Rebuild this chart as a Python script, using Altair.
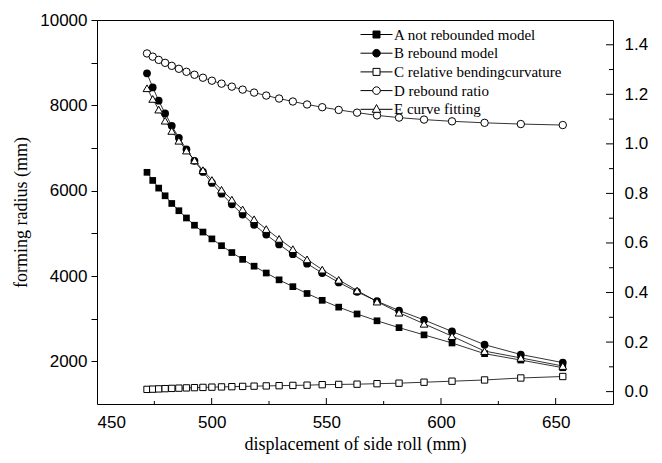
import altair as alt
import pandas as pd

# displacement of side roll (mm)
xs = [471.8, 474.3, 476.9, 479.7, 482.6, 485.7, 489.0, 492.5, 496.2, 500.1,
      504.3, 508.8, 513.5, 518.5, 523.8, 529.4, 535.4, 541.6, 548.2, 555.4,
      563.4, 572.1, 581.7, 592.6, 604.8, 619.0, 634.8, 653.1]
# forming radius (mm)
a_not_rebounded = [6430, 6240, 6060, 5880, 5700, 5530, 5360, 5190, 5030, 4870,
                   4710, 4550, 4390, 4230, 4070, 3910, 3750, 3590, 3430, 3270,
                   3110, 2950, 2790, 2620, 2430, 2180, 2030, 1850]
b_rebound = [8750, 8420, 8110, 7810, 7520, 7240, 6970, 6700, 6440, 6180,
             5930, 5680, 5440, 5200, 4970, 4740, 4510, 4290, 4070, 3850,
             3630, 3410, 3190, 2970, 2700, 2390, 2160, 1970]
e_fit = [8400, 8150, 7900, 7640, 7400, 7170, 6940, 6710, 6480, 6250,
         6020, 5790, 5560, 5330, 5100, 4870, 4630, 4390, 4150, 3910,
         3660, 3400, 3140, 2880, 2590, 2240, 2080, 1890]
# right axis
c_curvature = [0.009, 0.010, 0.011, 0.012, 0.013, 0.014, 0.015, 0.016, 0.017, 0.018,
               0.019, 0.020, 0.021, 0.022, 0.023, 0.024, 0.025, 0.026, 0.028, 0.029,
               0.030, 0.032, 0.034, 0.038, 0.042, 0.047, 0.055, 0.061]
d_ratio = [1.365, 1.352, 1.339, 1.327, 1.315, 1.303, 1.291, 1.279, 1.267, 1.255,
           1.243, 1.231, 1.219, 1.207, 1.195, 1.183, 1.171, 1.159, 1.148, 1.137,
           1.126, 1.115, 1.106, 1.098, 1.091, 1.085, 1.080, 1.076]

names = ["A not rebounded model", "B rebound model", "C relative bendingcurvature",
         "D rebound ratio", "E curve fitting"]

# tick positions
x_major_ticks = [500, 550, 600, 650]
x_minor_ticks = [475, 525, 575, 625]
r_major_ticks = [0.0, 0.2, 0.4, 0.6, 0.8, 1.0, 1.2, 1.4]
r_minor_ticks = [0.1, 0.3, 0.5, 0.7, 0.9, 1.1, 1.3]

df = pd.DataFrame({"x": xs, "A": a_not_rebounded, "B": b_rebound, "E": e_fit,
                   "C": c_curvature, "D": d_ratio})

W, H = 516, 384
xscale = alt.Scale(domain=[450, 675], nice=False, zero=False)
lscale = alt.Scale(domain=[1000, 10000], nice=False, zero=False)
rscale = alt.Scale(domain=[-0.05, 1.5], nice=False, zero=False)

base = alt.Chart(df)


def series_layers(col, scale, shape, filled, size):
    y = alt.Y(f"{col}:Q", scale=scale, axis=None)
    x = alt.X("x:Q", scale=xscale, axis=None)
    line = base.mark_line(color="black", strokeWidth=0.8).encode(x=x, y=y)
    if filled:
        pts = base.mark_point(shape=shape, filled=True, color="black", size=size, opacity=1)
    else:
        pts = base.mark_point(shape=shape, filled=True, fill="white", stroke="black",
                              strokeWidth=1, size=size, opacity=1)
    pts = pts.encode(x=x, y=y)
    return [line, pts]


layers = []
layers += series_layers("C", rscale, "square", False, 40)
layers += series_layers("D", rscale, "circle", False, 55)
layers += series_layers("A", lscale, "square", True, 45)
layers += series_layers("B", lscale, "circle", True, 60)
layers += series_layers("E", lscale, "triangle-up", False, 60)

# axes layers
main_axes = base.mark_point(opacity=0).encode(
    x=alt.X("x:Q", scale=xscale, title="displacement of side roll (mm)",
            axis=alt.Axis(orient="bottom", values=[450, 500, 550, 600, 650], tickSize=0,
                          domain=False, labelPadding=10, titlePadding=5, grid=False)),
    y=alt.Y("A:Q", scale=lscale, title="forming radius (mm)",
            axis=alt.Axis(orient="left", values=list(range(2000, 10001, 1000)),
                          labelExpr="datum.value % 2000 == 0 ? datum.value : ''",
                          tickSize=6, domain=False, labelPadding=4, titlePadding=9, grid=False)),
)
right_axis = base.mark_point(opacity=0).encode(
    x=alt.X("x:Q", scale=xscale, axis=None),
    y=alt.Y("C:Q", scale=rscale, title=None,
            axis=alt.Axis(orient="right", values=r_major_ticks,
                          format=".1f", tickSize=0, labelPadding=11, domain=False, grid=False)),
)

# inward ticks on bottom and right edges
xmaj = alt.Chart(pd.DataFrame({"t": x_major_ticks})).mark_rule(color="black", strokeWidth=1).encode(
    x=alt.X("t:Q", scale=xscale, axis=None), y=alt.value(H), y2=alt.value(H - 6))
xmin = alt.Chart(pd.DataFrame({"t": x_minor_ticks})).mark_rule(color="black", strokeWidth=1).encode(
    x=alt.X("t:Q", scale=xscale, axis=None), y=alt.value(H), y2=alt.value(H - 3))
rmaj = alt.Chart(pd.DataFrame({"t": r_major_ticks})).mark_rule(color="black", strokeWidth=1).encode(
    y=alt.Y("t:Q", scale=rscale, axis=None), x=alt.value(W), x2=alt.value(W - 7))
rmin = alt.Chart(pd.DataFrame({"t": r_minor_ticks})).mark_rule(color="black", strokeWidth=1).encode(
    y=alt.Y("t:Q", scale=rscale, axis=None), x=alt.value(W), x2=alt.value(W - 4))

# legend (line + marker symbols)
sq = "M-3.2,0H-0.7M0.7,0H3.2M-0.7,-0.7H0.7V0.7H-0.7Z"
circ = "M-3.2,0H-0.76M0.76,0H3.2M0.76,0A0.76,0.76,0,1,1,-0.76,0A0.76,0.76,0,1,1,0.76,0Z"
tri = "M-3.2,0H-0.5M0.5,0H3.2M0,-0.95L0.85,0.6L-0.85,0.6Z"
paths = [sq, circ, sq, circ, tri]
fills = ["black", "black", "white", "white", "white"]
leg = alt.Legend(title=None, orient="none", legendX=272, legendY=7, padding=0,
                 symbolSize=100, labelOffset=10, rowPadding=2.7, labelLimit=400)
legend_layer = alt.Chart(pd.DataFrame({"series": names})).mark_point(
    filled=True, opacity=1, strokeWidth=1).encode(
    shape=alt.Shape("series:N", scale=alt.Scale(domain=names, range=paths), legend=leg),
    fill=alt.Fill("series:N", scale=alt.Scale(domain=names, range=fills), legend=leg),
    stroke=alt.Stroke("series:N", scale=alt.Scale(domain=names, range=["black"] * 5), legend=leg),
).transform_filter("false")

chart = alt.layer(*layers, main_axes, right_axis, xmaj, xmin, rmaj, rmin, legend_layer).resolve_scale(
    y="independent").resolve_axis(x="independent", y="independent").properties(
    width=W, height=H,
    autosize=alt.AutoSizeParams(type="none"),
    padding={"left": 97, "top": 20, "right": 49, "bottom": 59},
).configure(background="white").configure_view(
    stroke="black", strokeWidth=1).configure_axis(
    labelFont="Liberation Sans", labelFontSize=17, labelColor="black",
    titleFont="Liberation Serif", titleFontSize=18, titleFontWeight="normal", titleColor="black",
    tickColor="black", tickWidth=1,
).configure_legend(
    labelFont="Liberation Serif", labelFontSize=15, labelColor="black",
    symbolStrokeWidth=1, symbolStrokeColor="black",
)

chart.save("out.html", embed_options={"renderer": "svg", "actions": False})
